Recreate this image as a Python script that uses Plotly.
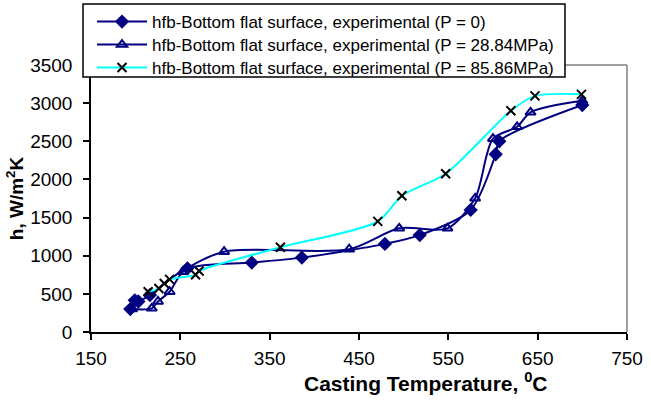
import plotly.graph_objects as go

# Series 1: P = 0
x_p0 = [194, 199, 203, 216, 258, 330, 386, 479, 518, 575, 603, 607, 700]
h_p0 = [300, 415, 400, 485, 835, 910, 975, 1155, 1270, 1600, 2330, 2500, 2975]

# Series 2: P = 28.84 MPa
x_p28 = [196, 218, 225, 238, 253, 299, 439, 495, 549, 580, 600, 627, 642, 700]
h_p28 = [300, 310, 400, 528, 790, 1053, 1085, 1359, 1359, 1752, 2534, 2690, 2880, 3030]

# Series 3: P = 85.86 MPa
x_p85 = [214, 226, 232, 238, 267, 271, 362, 471, 498, 547, 620, 647, 699]
h_p85 = [528, 570, 635, 690, 750, 800, 1110, 1450, 1785, 2075, 2900, 3095, 3115]

names = [
    "hfb-Bottom flat surface, experimental (P = 0)",
    "hfb-Bottom flat surface, experimental (P = 28.84MPa)",
    "hfb-Bottom flat surface, experimental (P = 85.86MPa)",
]

fig = go.Figure()
fig.add_trace(go.Scatter(
    x=x_p0, y=h_p0, name=names[0], mode="lines+markers", legend="legend",
    line=dict(color="#000080", width=2, shape="spline", smoothing=0.8),
    marker=dict(symbol="diamond", size=11, color="#000080"),
))
fig.add_trace(go.Scatter(
    x=x_p28, y=h_p28, name=names[1], mode="lines+markers", legend="legend2",
    line=dict(color="#000080", width=2, shape="spline", smoothing=0.8),
    marker=dict(symbol="triangle-up-open", size=9, color="#000080",
                line=dict(width=2, color="#000080")),
))
fig.add_trace(go.Scatter(
    x=x_p85, y=h_p85, name=names[2], mode="lines+markers", legend="legend3",
    line=dict(color="#00FFFF", width=2, shape="spline", smoothing=0.8),
    marker=dict(symbol="x-thin", size=9, color="black",
                line=dict(width=2, color="black")),
))

leg_common = dict(xanchor="left", yanchor="top", x=0.0019,
                  bgcolor="rgba(0,0,0,0)", borderwidth=0,
                  font=dict(size=17), itemwidth=50)

fig.update_layout(
    width=651, height=401,
    margin=dict(l=91, r=24, t=65, b=69, autoexpand=False),
    paper_bgcolor="white", plot_bgcolor="white",
    font=dict(family="Liberation Sans, Arial, sans-serif", color="black", size=19),
    showlegend=True,
    legend=dict(y=1.2285, **leg_common),
    legend2=dict(y=1.1423, **leg_common),
    legend3=dict(y=1.0562, **leg_common),
    xaxis=dict(
        range=[150, 750], tick0=150, dtick=100, showgrid=False, zeroline=False,
        showline=True, linecolor="black", linewidth=1.5,
        ticks="outside", ticklen=6, tickcolor="black", tickwidth=1.5,
        tickfont=dict(size=19), ticklabelstandoff=2,
    ),
    yaxis=dict(
        range=[0, 3500], dtick=500, showgrid=False, zeroline=False,
        showline=True, linecolor="black", linewidth=1.5,
        ticks="outside", ticklen=6, tickcolor="black", tickwidth=1.5,
        tickfont=dict(size=19), ticklabelstandoff=7,
        title=dict(text="<b>h, W/m<sup>2</sup>K</b>", font=dict(size=19), standoff=2),
    ),
    annotations=[
        dict(text="<b>Casting Temperature, <sup>0</sup>C</b>", xref="paper", yref="paper",
             x=0.625, y=-0.187, xanchor="center", yanchor="middle", showarrow=False,
             font=dict(size=21)),
    ],
    shapes=[
        dict(type="line", xref="paper", yref="paper", x0=0, x1=1, y0=1, y1=1,
             line=dict(color="gray", width=1.5)),
        dict(type="line", xref="paper", yref="paper", x0=1, x1=1, y0=0, y1=1,
             line=dict(color="gray", width=1.5)),
        dict(type="rect", xref="paper", yref="paper", x0=-0.0149, x1=0.8843,
             y0=0.955, y1=1.2285, layer="above",
             fillcolor="white", line=dict(color="black", width=1.5)),
    ],
)

fig.write_html("out.html", config={"displayModeBar": False},
               post_script="document.body.style.margin='0';")
